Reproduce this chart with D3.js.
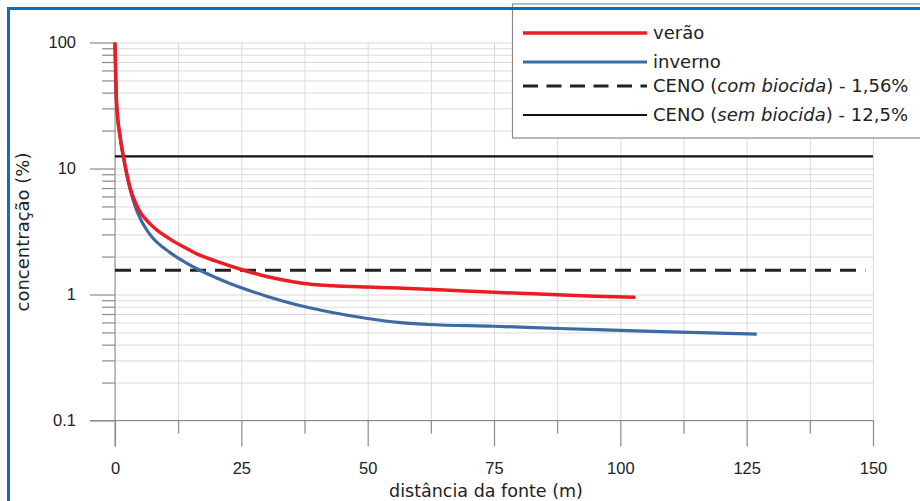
<!DOCTYPE html>
<html>
<head>
<meta charset="utf-8">
<script src="https://cdn.jsdelivr.net/npm/d3@7"></script>
<style>
  body { margin: 0; background: #fff; }
  svg { display: block; font-family: "DejaVu Sans", Verdana, sans-serif; }
</style>
</head>
<body>
<svg id="chart"></svg>
<script>
// data
const xTicks = [0, 25, 50, 75, 100, 125, 150];
const yTicks = [0.1, 1, 10, 100];

const veraoX = [0, 0.3, 1, 1.65, 3, 4.6, 6.9, 10.9, 13.9, 16.2, 20, 25, 30, 33, 37, 43, 50, 56, 62, 75, 84, 95, 103];
const veraoY = [100, 34, 18, 12.5, 7.0, 4.8, 3.65, 2.75, 2.35, 2.1, 1.84, 1.58, 1.39, 1.31, 1.23, 1.175, 1.145, 1.125, 1.1, 1.04, 1.01, 0.97, 0.95];

const invernoX = [0, 0.3, 1, 1.65, 3, 4, 5, 6.9, 10.9, 13.9, 16.2, 20, 25, 30, 37, 43, 50, 56, 62, 75, 88, 100, 110, 127];
const invernoY = [100, 34, 18, 12.5, 6.8, 5.0, 4.0, 3.0, 2.15, 1.8, 1.6, 1.36, 1.13, 0.97, 0.81, 0.72, 0.645, 0.6, 0.578, 0.56, 0.537, 0.52, 0.505, 0.484];

const cenoCom = 1.56;
const cenoSem = 12.5;

const legendNames = ["verão", "inverno", "CENO (com biocida) - 1,56%", "CENO (sem biocida) - 12,5%"];

const width = 920, height = 501;
const svg = d3.select("#chart").attr("width", width).attr("height", height);

const x = d3.scaleLinear().domain([0, 150]).range([115, 873]);
const y = d3.scaleLog().domain([0.1, 100]).range([420.5, 42.5]);

// minor log values 2..9 per decade
const yMinor = [];
[0.1, 1, 10].forEach(d => { for (let k = 2; k <= 9; k++) yMinor.push(d * k); });

const gridColor = "#dadada";
const axisColor = "#8a8a8a";

// grid
svg.append("g")
    .attr("transform", `translate(0,${y(0.1)})`)
    .call(d3.axisBottom(x).tickValues(d3.range(0, 150.1, 12.5)).tickSize(-(y(0.1) - y(100))).tickFormat(""))
    .call(g => g.select(".domain").remove())
    .selectAll("line").attr("stroke", gridColor);

svg.append("g")
    .attr("transform", `translate(${x(0)},0)`)
    .call(d3.axisLeft(y).tickValues(yMinor.concat(yTicks)).tickSize(-(x(150) - x(0))).tickFormat(""))
    .call(g => g.select(".domain").remove())
    .selectAll("line").attr("stroke", gridColor);

// y axis minor ticks
svg.append("g")
    .attr("transform", `translate(${x(0)},0)`)
    .call(d3.axisLeft(y).tickValues(yMinor).tickSize(13).tickFormat(""))
    .call(g => g.select(".domain").remove())
    .selectAll("line").attr("stroke", axisColor).attr("stroke-width", 1.2);

// y axis major
const yAxisG = svg.append("g")
    .attr("transform", `translate(${x(0)},0)`)
    .call(d3.axisLeft(y).tickValues(yTicks).tickSize(25).tickPadding(14).tickFormat(d => String(d)));
yAxisG.select(".domain").attr("stroke", axisColor).attr("d", `M0,${y(100)}V${y(0.1) + 26}`);
yAxisG.selectAll("line").attr("stroke", axisColor).attr("stroke-width", 1.2);
yAxisG.selectAll("text").attr("fill", "#222").style("font-size", "16.5px");

// x axis minor ticks
svg.append("g")
    .attr("transform", `translate(0,${y(0.1)})`)
    .call(d3.axisBottom(x).tickValues(d3.range(12.5, 150, 25)).tickSize(13).tickFormat(""))
    .call(g => g.select(".domain").remove())
    .selectAll("line").attr("stroke", axisColor).attr("stroke-width", 1.2);

// x axis major
const xAxisG = svg.append("g")
    .attr("transform", `translate(0,${y(0.1)})`)
    .call(d3.axisBottom(x).tickValues(xTicks).tickSize(26).tickPadding(16));
xAxisG.select(".domain").attr("stroke", axisColor).attr("d", `M${x(0) - 25},0H${x(150)}`);
xAxisG.selectAll("line").attr("stroke", axisColor).attr("stroke-width", 1.2);
xAxisG.selectAll("text").attr("fill", "#222").style("font-size", "16.5px");

// axis titles
svg.append("text")
    .attr("x", 486).attr("y", 497)
    .attr("text-anchor", "middle").attr("fill", "#222")
    .style("font-size", "17.5px")
    .text("distância da fonte (m)");

svg.append("text")
    .attr("transform", `translate(29,${232}) rotate(-90)`)
    .attr("text-anchor", "middle").attr("fill", "#222")
    .style("font-size", "18px")
    .text("concentração (%)");

// threshold lines
svg.append("line")
    .attr("x1", x(0)).attr("x2", x(150))
    .attr("y1", y(cenoSem)).attr("y2", y(cenoSem))
    .attr("stroke", "#111").attr("stroke-width", 2.2);

svg.append("line")
    .attr("x1", x(0)).attr("x2", x(148.5))
    .attr("y1", y(cenoCom)).attr("y2", y(cenoCom))
    .attr("stroke", "#222").attr("stroke-width", 3)
    .attr("stroke-dasharray", "16,9");

// curves
const line = d3.line().x(d => x(d[0])).y(d => y(d[1])).curve(d3.curveMonotoneX);

svg.append("path")
    .datum(d3.zip(invernoX, invernoY))
    .attr("d", line).attr("fill", "none")
    .attr("stroke", "#3d6ba1").attr("stroke-width", 3.2);

svg.append("path")
    .datum(d3.zip(veraoX, veraoY))
    .attr("d", line).attr("fill", "none")
    .attr("stroke", "#ec1c24").attr("stroke-width", 3.5);

// legend
const legend = svg.append("g");
legend.append("rect")
    .attr("x", 512.5).attr("y", 4).attr("width", 420).attr("height", 134)
    .attr("fill", "#fff").attr("stroke", "#8a8a8a").attr("stroke-width", 1.2);

const legendY = [33, 62, 86, 115];
const legendStyle = [
    { stroke: "#ec1c24", w: 3.5, dash: null },
    { stroke: "#3d6ba1", w: 3.2, dash: null },
    { stroke: "#222", w: 3, dash: "15,8.5" },
    { stroke: "#111", w: 2.2, dash: null }
];

legendNames.forEach((name, i) => {
    legend.append("line")
        .attr("x1", 523).attr("x2", 647)
        .attr("y1", legendY[i]).attr("y2", legendY[i])
        .attr("stroke", legendStyle[i].stroke)
        .attr("stroke-width", legendStyle[i].w)
        .attr("stroke-dasharray", legendStyle[i].dash);
    const t = legend.append("text")
        .attr("x", 653).attr("y", legendY[i]).attr("dy", "0.35em")
        .attr("fill", "#222").style("font-size", "18px");
    const m = name.match(/^(CENO \()(.*?)(\).*)$/);
    if (m) {
        t.append("tspan").text(m[1]);
        t.append("tspan").style("font-style", "italic").text(m[2]);
        t.append("tspan").text(m[3]);
    } else {
        t.text(name);
    }
});

// blue frame
svg.append("path")
    .attr("d", "M8.5,510V8.5H930")
    .attr("fill", "none").attr("stroke", "#0b70b9").attr("stroke-width", 3);
</script>
</body>
</html>
